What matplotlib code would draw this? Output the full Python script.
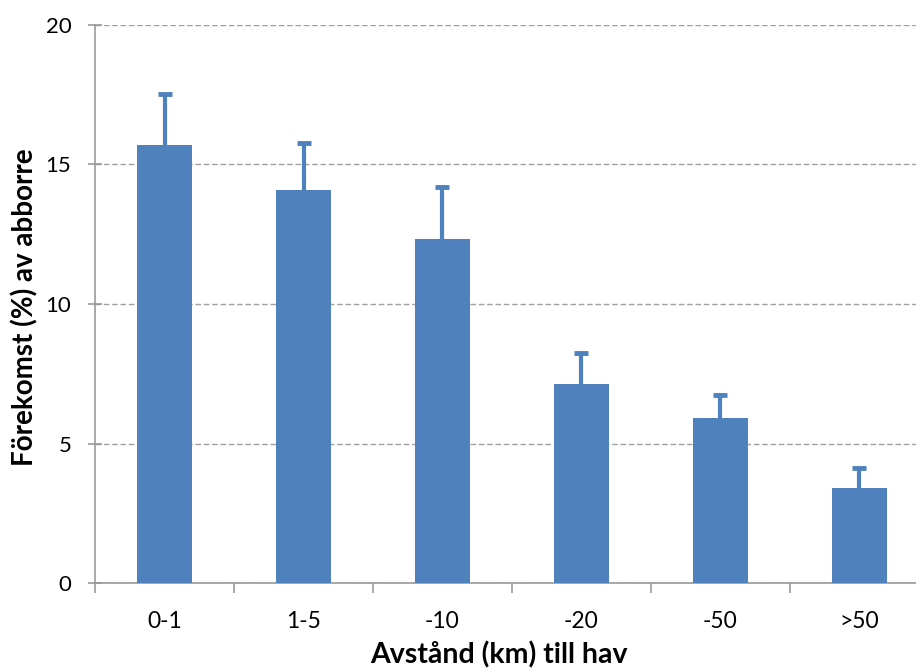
import matplotlib
matplotlib.use("Agg")
import matplotlib.pyplot as plt
import numpy as np

# === Data ===
categories = ["0-1", "1-5", "-10", "-20", "-50", ">50"]
values = [15.7, 14.1, 12.33, 7.13, 5.91, 3.40]
errors = [1.83, 1.67, 1.86, 1.11, 0.83, 0.72]

plt.rcParams['font.family'] = ['Lato', 'DejaVu Sans']

fig = plt.figure(figsize=(9.16, 6.70), dpi=100)
ax = fig.add_axes([95 / 916, 1 - 583 / 670, 834 / 916, 558 / 670])

x = np.arange(len(categories))
tops = np.array(values) + np.array(errors)
color = "#4F81BD"
ax.bar(x, values, width=0.4, color=color, zorder=3)

# upward error bars only
ax.vlines(x, values, tops, color=color, linewidth=3, zorder=4)
ax.plot(x, tops, linestyle="none", marker="_", markersize=10, markeredgewidth=3.5,
        color=color, zorder=4)

ax.set_xlim(-0.5, len(categories) - 0.5)
ax.set_ylim(0, 20)
ax.set_yticks([0, 5, 10, 15, 20])
ax.yaxis.grid(True, linestyle=(0, (4, 2)), color="#A0A0A0", linewidth=1, zorder=0)

ax.set_xticks(x)
ax.set_xticklabels(categories)
ax.set_xticks(np.arange(-0.5, len(categories)), minor=True)
ax.tick_params(axis="x", which="major", length=0, labelsize=16.5, pad=20)
ax.tick_params(axis="x", which="minor", length=7, width=1.2, color="#999999", direction="out")
ax.tick_params(axis="y", length=10, width=1.2, color="#999999", direction="inout", labelsize=16, pad=12)

for side in ["top", "right"]:
    ax.spines[side].set_visible(False)
for side in ["left", "bottom"]:
    ax.spines[side].set_color("#999999")
    ax.spines[side].set_linewidth(1.2)

fig.text(25 / 916, 1 - 307 / 670, "Förekomst (%) av abborre", rotation=90,
         ha="center", va="center", fontsize=20, fontweight="bold")
fig.text(499 / 916, 1 - 655 / 670, "Avstånd (km) till hav",
         ha="center", va="center", fontsize=20.5, fontweight="bold")

fig.savefig("out.png", dpi=100)
